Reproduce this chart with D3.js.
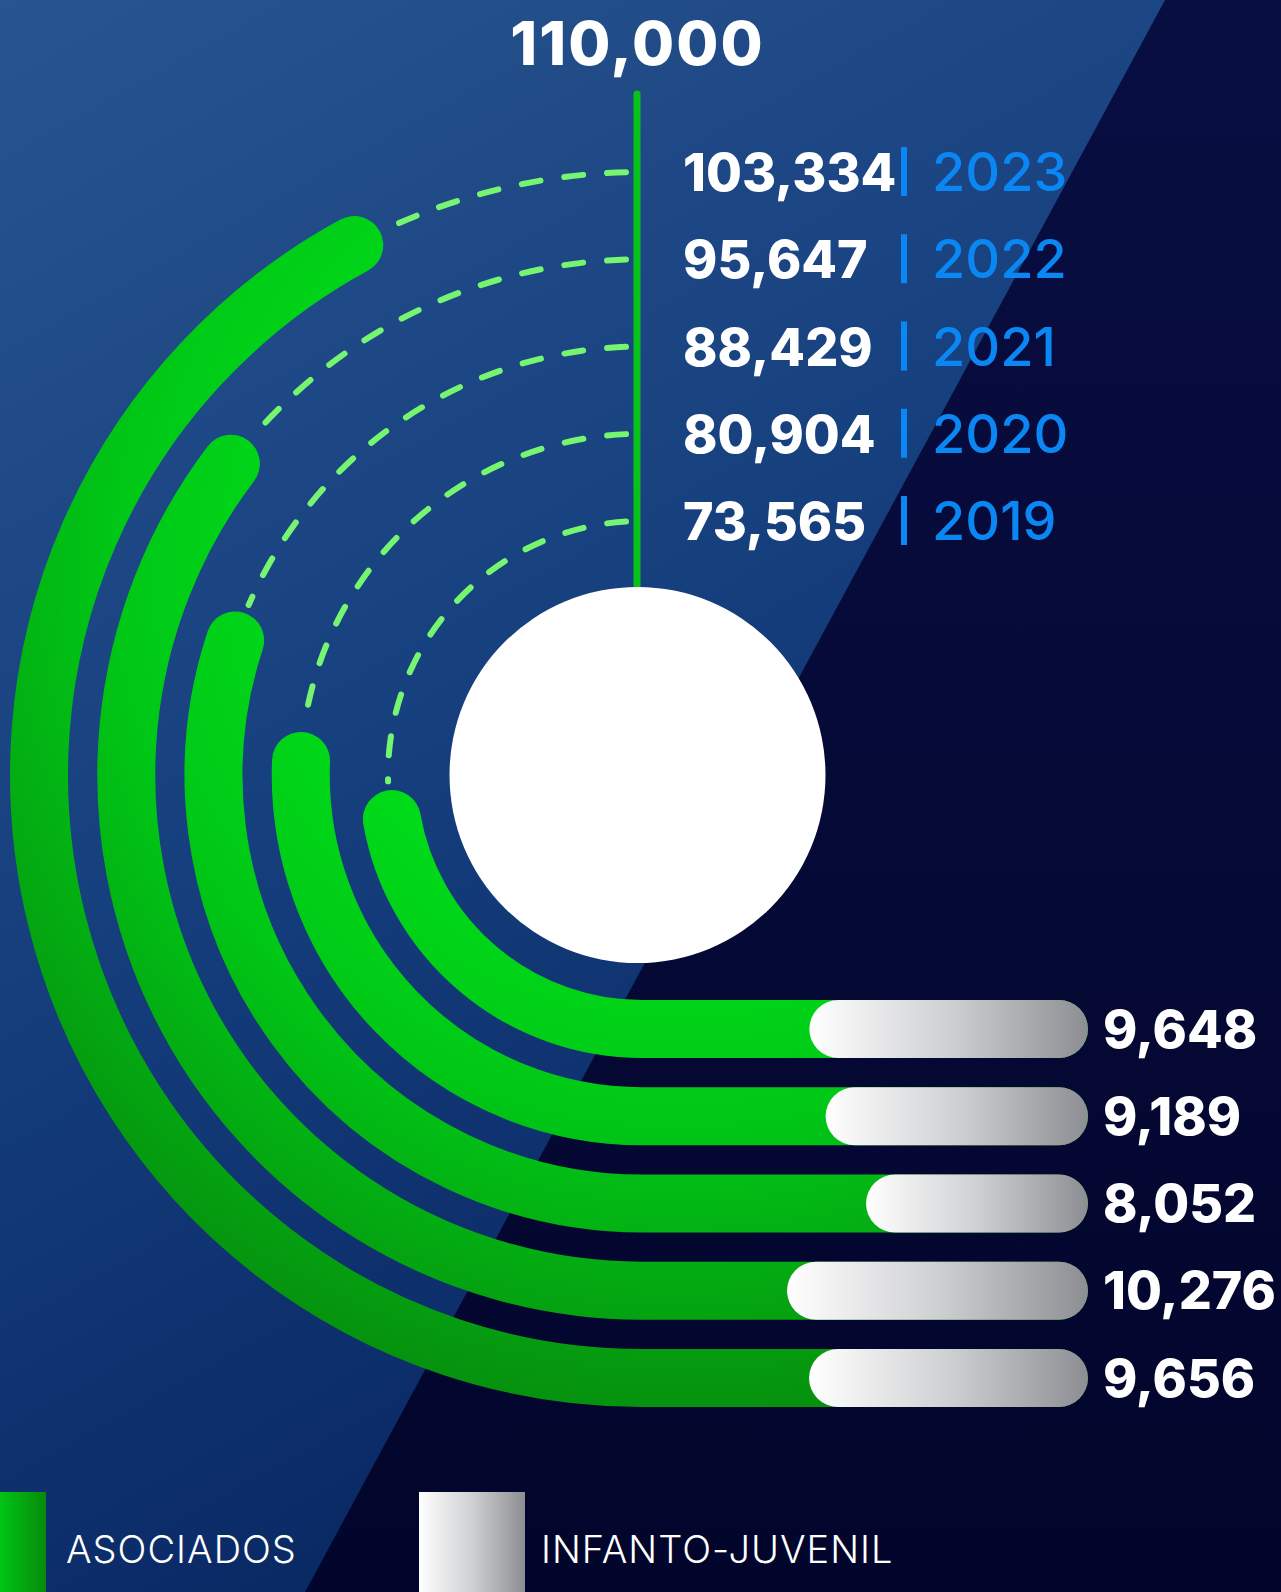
<!DOCTYPE html>
<html>
<head>
<meta charset="utf-8">
<script src="https://cdn.jsdelivr.net/npm/d3@7"></script>
<style>
  html, body { margin: 0; padding: 0; background: #061040; }
  svg { display: block; }
</style>
</head>
<body>
<script>
// chart data
const years = ["2019", "2020", "2021", "2022", "2023"];
const asociados = [73565, 80904, 88429, 95647, 103334];
const infantoJuvenil = [9648, 9189, 8052, 10276, 9656];
const totalMax = 110000;
const legendLabels = ["ASOCIADOS", "INFANTO-JUVENIL"];

const width = 1281, height = 1592;
const cx = 642, cy = 775;      // centre of the rings
const band = 58;               // ring / bar thickness
const barEnd = 1088;           // right end of the horizontal bars
const fmt = d3.format(",");
const numFont = "Inter, 'Noto Sans', sans-serif";

const svg = d3.select("body").append("svg")
  .attr("width", width)
  .attr("height", height);

const defs = svg.append("defs");

function linear(id, stops, attrs) {
  const g = defs.append("linearGradient").attr("id", id);
  Object.entries(attrs || {}).forEach(([k, v]) => g.attr(k, v));
  stops.forEach(s => g.append("stop").attr("offset", s[0]).attr("stop-color", s[1]));
  return g;
}

linear("bgBlue", [[0, "#28558f"], [0.5, "#163f7e"], [1, "#072560"]],
  {x1: 0, y1: 0, x2: 0.45, y2: 1});
linear("bgDark", [[0, "#080e42"], [1, "#02052b"]], {x1: 0, y1: 0, x2: 0, y2: 1});
linear("pill", [[0, "#ffffff"], [0.5, "#cfd0d2"], [1, "#8d8e93"]]);
linear("legGreen", [[0, "#00c515"], [1, "#078a0c"]]);

const rg = defs.append("radialGradient").attr("id", "ringGreen")
  .attr("gradientUnits", "userSpaceOnUse")
  .attr("cx", 680).attr("cy", 560).attr("r", 900);
[[0.35, "#00e01a"], [0.62, "#00c816"], [1, "#07880d"]].forEach(s =>
  rg.append("stop").attr("offset", s[0]).attr("stop-color", s[1]));

// background: blue with a dark diagonal on the right
svg.append("rect").attr("width", width).attr("height", height).attr("fill", "url(#bgBlue)");
svg.append("polygon")
  .attr("points", [[1165, 0], [width, 0], [width, height], [305, height]].join(" "))
  .attr("fill", "url(#bgDark)");

// scales
const radius = d3.scalePoint().domain(years).range([254, 603]);
const sweep = d3.scalePow().exponent(3.5)
  .domain(d3.extent(asociados))
  .range([80, 151.5].map(d => d * Math.PI / 180));
const pillW = d3.scaleLinear().domain(d3.extent(infantoJuvenil)).range([222, 301]);

const data = years.map((y, i) => ({
  year: y, asoc: asociados[i], inf: infantoJuvenil[i], r: radius(y)
}));

// vertical scale line up to the total
svg.append("line")
  .attr("x1", 637).attr("x2", 637)
  .attr("y1", 94).attr("y2", cy - 150)
  .attr("stroke", "#08c21a").attr("stroke-width", 7)
  .attr("stroke-linecap", "round");

// dashed remainder up to the top
svg.append("g").selectAll("path")
  .data(data)
  .join("path")
    .attr("d", d => {
      const p = d3.path();
      const a0 = 1.5 * Math.PI - 16 / d.r;
      const a1 = Math.PI / 2 + sweep(d.asoc) + 38 / d.r;
      p.arc(cx, cy, d.r, a0, a1, true);
      return p.toString();
    })
    .attr("fill", "none")
    .attr("stroke", "#76f570")
    .attr("stroke-width", 6)
    .attr("stroke-linecap", "round")
    .attr("stroke-dasharray", "19 24");

// rings + horizontal bars (asociados)
svg.append("g").selectAll("path")
  .data(data)
  .join("path")
    .attr("d", d => {
      const p = d3.path();
      const a = Math.PI / 2 + sweep(d.asoc);
      p.moveTo(cx + d.r * Math.cos(a), cy + d.r * Math.sin(a));
      p.arc(cx, cy, d.r, a, Math.PI / 2, true);
      p.lineTo(barEnd - band / 2, cy + d.r);
      return p.toString();
    })
    .attr("fill", "none")
    .attr("stroke", "url(#ringGreen)")
    .attr("stroke-width", band)
    .attr("stroke-linecap", "round");

// infanto-juvenil pills
svg.append("g").selectAll("rect")
  .data(data)
  .join("rect")
    .attr("x", d => barEnd - pillW(d.inf))
    .attr("y", d => cy + d.r - band / 2)
    .attr("width", d => pillW(d.inf))
    .attr("height", band)
    .attr("rx", band / 2)
    .attr("fill", "url(#pill)");

// white centre disc
svg.append("circle")
  .attr("cx", 637.5).attr("cy", cy).attr("r", 188)
  .attr("fill", "#ffffff");

// total label
svg.append("text")
  .attr("x", 637.5).attr("y", 65)
  .attr("text-anchor", "middle")
  .attr("font-family", numFont).attr("font-weight", 800).attr("font-size", 61)
  .attr("letter-spacing", 2)
  .attr("fill", "#ffffff")
  .text(fmt(totalMax));

// year rows: value | year
const rows = svg.append("g").selectAll("g")
  .data(data)
  .join("g")
    .attr("transform", d => `translate(0,${cy - d.r + 19})`);

rows.append("text")
  .attr("x", 683)
  .attr("font-family", numFont).attr("font-weight", 800).attr("font-size", 52)
  .attr("fill", "#ffffff")
  .text(d => fmt(d.asoc));

rows.append("rect")
  .attr("x", 901).attr("y", -44)
  .attr("width", 6).attr("height", 49)
  .attr("fill", "#0b87f4");

rows.append("text")
  .attr("x", 932)
  .attr("font-family", numFont).attr("font-weight", 500).attr("font-size", 54)
  .attr("fill", "#0b87f4")
  .text(d => d.year);

// infanto-juvenil values
svg.append("g").selectAll("text")
  .data(data)
  .join("text")
    .attr("x", 1103)
    .attr("y", d => cy + d.r + 18.5)
    .attr("font-family", numFont).attr("font-weight", 800).attr("font-size", 52)
    .attr("fill", "#ffffff")
    .text(d => fmt(d.inf));

// legend
const legend = svg.append("g");
legend.append("rect")
  .attr("x", 0).attr("y", 1492).attr("width", 46).attr("height", 100)
  .attr("fill", "url(#legGreen)");
legend.append("rect")
  .attr("x", 419).attr("y", 1492).attr("width", 106).attr("height", 100)
  .attr("fill", "url(#pill)");
legend.selectAll("text")
  .data(legendLabels)
  .join("text")
    .attr("x", (d, i) => i ? 541 : 66)
    .attr("y", 1563)
    .attr("font-family", numFont).attr("font-weight", 300).attr("font-size", 38)
    .attr("letter-spacing", 1)
    .attr("fill", "#ffffff")
    .text(d => d);
</script>
</body>
</html>
